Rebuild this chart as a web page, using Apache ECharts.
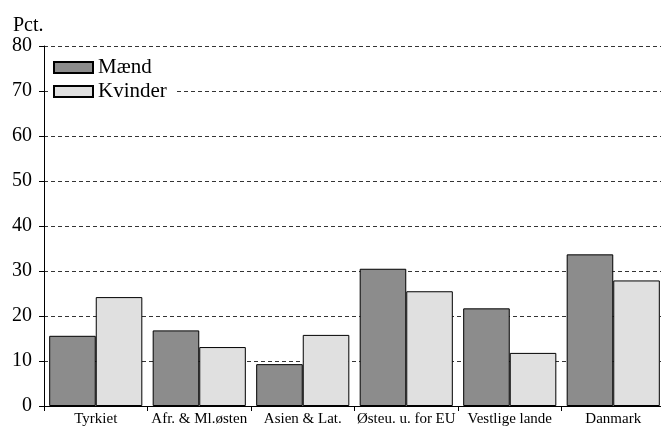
<!DOCTYPE html>
<html><head><meta charset="utf-8">
<script src="https://cdn.jsdelivr.net/npm/echarts@6/dist/echarts.min.js"></script>
<style>html,body{margin:0;padding:0;background:#fff;overflow:hidden}#c{width:665px;height:428px}</style>
</head><body><div id="c"></div>
<script>
const categories = ['Tyrkiet', 'Afr. & Ml.østen', 'Asien & Lat.', 'Østeu. u. for EU', 'Vestlige lande', 'Danmark'];
const maend = [15.6, 16.8, 9.3, 30.5, 21.7, 33.7];
const kvinder = [24.2, 13.1, 15.8, 25.5, 11.8, 27.9];
const yTicks = [0, 10, 20, 30, 40, 50, 60, 70, 80];

const font = 'Liberation Serif';
const chart = echarts.init(document.getElementById('c'));
chart.setOption({
  animation: false,
  backgroundColor: '#fff',
  textStyle: { fontFamily: font, color: '#000' },
  title: { text: 'Pct.', left: 8, top: 11, textStyle: { fontFamily: font, fontSize: 20, fontWeight: 'normal', color: '#000' } },
  legend: {
    orient: 'vertical', left: 51, top: 55, itemWidth: 39, itemHeight: 11, itemGap: 3,
    icon: 'rect',
    backgroundColor: '#fff', padding: [2, 9, 2, 2],
    textStyle: { fontFamily: font, fontSize: 21, lineHeight: 21, color: '#000' },
    data: ['Mænd', 'Kvinder']
  },
  grid: { left: 44, right: 0, top: 46, bottom: 22 },
  xAxis: {
    type: 'category', data: categories,
    axisLine: { lineStyle: { color: '#000', width: 1 } },
    axisTick: { show: true, length: 5, lineStyle: { color: '#000' } },
    axisLabel: { fontFamily: font, fontSize: 15, color: '#000', margin: 6, interval: 0 }
  },
  yAxis: {
    type: 'value', min: yTicks[0], max: yTicks[yTicks.length - 1], interval: 10,
    axisLine: { show: true, lineStyle: { color: '#000', width: 1 } },
    axisTick: { show: true, length: 5, lineStyle: { color: '#000' } },
    axisLabel: { fontFamily: font, fontSize: 20, color: '#000', margin: 12 },
    splitLine: { show: true, lineStyle: { color: '#000', type: [4, 3], width: 0.8 } }
  },
  series: [
    { name: 'Mænd', type: 'bar', data: maend, barGap: '0%', barCategoryGap: '10%',
      itemStyle: { color: '#8c8c8c', borderColor: '#000', borderWidth: 1 } },
    { name: 'Kvinder', type: 'bar', data: kvinder,
      itemStyle: { color: '#e0e0e0', borderColor: '#000', borderWidth: 1 } }
  ]
});
</script></body></html>
